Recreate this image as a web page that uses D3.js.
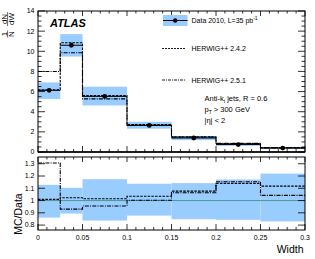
<!DOCTYPE html>
<meta charset="utf-8">
<style>
body { margin: 0; background: #fff; }
svg { font-family: "Liberation Sans", Arial, sans-serif; }
.frame { fill: none; stroke: #000; stroke-width: 1; }
</style>
<svg width="315" height="259"></svg>
<script src="https://d3js.org/d3.v7.min.js"></script>
<script>

// bin edges of the jet width
var edges = [0, 0.025, 0.05, 0.1, 0.15, 0.2, 0.25, 0.3];
// data 2010, 1/N dN/dW
var dataVals = [6.12, 10.6, 5.52, 2.64, 1.39, 0.74, 0.39];
// total uncertainty band, relative to data
var bandLo = [0.861, 0.894, 0.837, 0.877, 0.848, 0.843, 0.83];
var bandHi = [1.128, 1.104, 1.174, 1.137, 1.142, 1.172, 1.22];
// MC / Data
var ratio242 = [1.01, 1.023, 1.015, 1.035, 1.077, 1.14, 1.118];
var ratio251 = [1.306, 0.93, 0.956, 1.002, 1.064, 1.153, 1.042];

var xTicks = [0, 0.05, 0.1, 0.15, 0.2, 0.25, 0.3];
var yTicks = [0, 2, 4, 6, 8, 10, 12, 14];
var rTicks = [0.8, 0.9, 1, 1.1, 1.2, 1.3];

var svg = d3.select("svg"),
    left = 38, right = 305;

var x = d3.scaleLinear().domain([0, 0.3]).range([left, right]);
var y = d3.scaleLinear().domain([0, 14]).range([152, 11]);
var r = d3.scaleLinear().domain([0.76, 1.355]).range([230, 157]);

var bins = dataVals.map(function(d, i) {
  return {x0: edges[i], x1: edges[i + 1], v: d, lo: bandLo[i], hi: bandHi[i],
          r242: ratio242[i], r251: ratio251[i]};
});

var band = "#99ccff";

function step(yScale, f) {
  var pts = [];
  bins.forEach(function(b) {
    pts.push([x(b.x0), yScale(f(b))]);
    pts.push([x(b.x1), yScale(f(b))]);
  });
  return d3.line()(pts);
}

// ---------- top panel ----------
var topG = svg.append("g");

topG.selectAll(".band").data(bins).enter().append("rect")
    .attr("x", function(d) { return x(d.x0); })
    .attr("width", function(d) { return x(d.x1) - x(d.x0); })
    .attr("y", function(d) { return y(d.v * d.hi); })
    .attr("height", function(d) { return y(d.v * d.lo) - y(d.v * d.hi); })
    .attr("fill", band);

topG.append("path").attr("d", step(y, function(b) { return b.v * b.r242; }))
    .attr("fill", "none").attr("stroke", "#000").attr("stroke-width", 1.1)
    .attr("stroke-dasharray", "2.5,1.2");
topG.append("path").attr("d", step(y, function(b) { return b.v * b.r251; }))
    .attr("fill", "none").attr("stroke", "#000").attr("stroke-width", 1.1)
    .attr("stroke-dasharray", "4,1.2,1,1.2");

topG.selectAll(".xerr").data(bins).enter().append("line")
    .attr("x1", function(d) { return x(d.x0); })
    .attr("x2", function(d) { return x(d.x1); })
    .attr("y1", function(d) { return y(d.v); })
    .attr("y2", function(d) { return y(d.v); })
    .attr("stroke", "#000").attr("stroke-width", 1);
topG.selectAll(".pt").data(bins).enter().append("circle")
    .attr("cx", function(d) { return x((d.x0 + d.x1) / 2); })
    .attr("cy", function(d) { return y(d.v); })
    .attr("r", 2.4).attr("fill", "#000");

// axes, ROOT style ticks inside
function yAxis(g, scale, ticks, minor, side) {
  var dir = side === "left" ? 1 : -1, x0 = side === "left" ? left : right;
  var a = g.append("g");
  scale.ticks(40).filter(function(t) { return Math.abs(t / minor - Math.round(t / minor)) < 1e-6; })
    .forEach(function(t) {
      var major = ticks.some(function(m) { return Math.abs(m - t) < 1e-6; });
      a.append("line").attr("x1", x0).attr("x2", x0 + dir * (major ? 7 : 3.5))
        .attr("y1", scale(t)).attr("y2", scale(t)).attr("stroke", "#000").attr("stroke-width", 0.8);
    });
}
function xAxis(g, yPos, dir, majorLen) {
  var a = g.append("g");
  d3.range(0, 31).forEach(function(i) {
    var t = i / 100, major = i % 5 === 0;
    a.append("line").attr("x1", x(t)).attr("x2", x(t))
      .attr("y1", yPos).attr("y2", yPos + dir * (major ? majorLen : majorLen / 2))
      .attr("stroke", "#000").attr("stroke-width", 0.8);
  });
}

topG.append("rect").attr("class", "frame")
    .attr("x", left).attr("y", y(14)).attr("width", right - left).attr("height", y(0) - y(14));
yAxis(topG, y, yTicks, 0.5, "left");
yAxis(topG, y, yTicks, 0.5, "right");
xAxis(topG, y(14), 1, 5);
xAxis(topG, y(0), -1, 6);
topG.append("line").attr("x1", left).attr("x2", right).attr("y1", y(0)).attr("y2", y(0))
    .attr("stroke", "#000").attr("stroke-width", 1.5);

topG.selectAll(".ylab").data(yTicks).enter().append("text")
    .attr("x", 34.5).attr("y", function(d) { return y(d) + 2.4; })
    .attr("text-anchor", "end").attr("font-size", 7).text(function(d) { return d; });

// y title 1/N dN/dW
var yt = svg.append("g").attr("transform", "translate(7.6,0) rotate(-90)")
    .attr("font-size", 8);
yt.append("text").attr("x", -34).attr("y", -1).attr("text-anchor", "middle").text("1");
yt.append("text").attr("x", -34).attr("y", 6.6).attr("text-anchor", "middle").text("N");
yt.append("line").attr("x1", -37.5).attr("x2", -30.5).attr("y1", 0).attr("y2", 0).attr("stroke", "#000").attr("stroke-width", 0.6);
yt.append("text").attr("x", -19).attr("y", -1).attr("text-anchor", "middle").text("dN");
yt.append("text").attr("x", -19).attr("y", 6.6).attr("text-anchor", "middle").text("dW");
yt.append("line").attr("x1", -26).attr("x2", -12).attr("y1", 0).attr("y2", 0).attr("stroke", "#000").attr("stroke-width", 0.6);

svg.append("text").attr("x", 50).attr("y", 27).attr("font-size", 11)
    .attr("font-weight", "bold").attr("font-style", "italic").text("ATLAS");

// legend
var lg = svg.append("g").attr("font-size", 7);
lg.append("rect").attr("x", 163).attr("y", 15).attr("width", 24.5).attr("height", 11).attr("fill", band);
lg.append("line").attr("x1", 163).attr("x2", 187.5).attr("y1", 20.5).attr("y2", 20.5).attr("stroke", "#000");
lg.append("circle").attr("cx", 175.2).attr("cy", 20.5).attr("r", 2.2).attr("fill", "#000");
var t1 = lg.append("text").attr("x", 191.5).attr("y", 23);
t1.append("tspan").text("Data 2010, L=35 pb");
t1.append("tspan").attr("dy", -3).attr("font-size", 5).text("-1");
lg.append("line").attr("x1", 162).attr("x2", 186).attr("y1", 48.5).attr("y2", 48.5)
    .attr("stroke", "#000").attr("stroke-width", 0.9).attr("stroke-dasharray", "2,1");
lg.append("text").attr("x", 191.5).attr("y", 51).text("HERWIG++ 2.4.2");
lg.append("line").attr("x1", 162).attr("x2", 186).attr("y1", 80).attr("y2", 80)
    .attr("stroke", "#000").attr("stroke-width", 0.9).attr("stroke-dasharray", "3,1,1,1");
lg.append("text").attr("x", 191.5).attr("y", 82.5).text("HERWIG++ 2.5.1");

var an = svg.append("g").attr("font-size", 7.5);
var a1 = an.append("text").attr("x", 204.5).attr("y", 100.5);
a1.append("tspan").text("Anti-k");
a1.append("tspan").attr("dy", 2).attr("font-size", 5).text("t");
a1.append("tspan").attr("dy", -2).text(" jets, R = 0.6");
var a2 = an.append("text").attr("x", 204.5).attr("y", 111.5);
a2.append("tspan").text("p");
a2.append("tspan").attr("dy", 2).attr("font-size", 5).text("T");
a2.append("tspan").attr("dy", -2).text(" > 300 GeV");
an.append("text").attr("x", 204.5).attr("y", 122.5).text("|\u03b7| < 2");

// ---------- ratio panel ----------
var bot = svg.append("g");
bot.selectAll(".rband").data(bins).enter().append("rect")
    .attr("x", function(d) { return x(d.x0); })
    .attr("width", function(d) { return x(d.x1) - x(d.x0); })
    .attr("y", function(d) { return r(d.hi); })
    .attr("height", function(d) { return r(d.lo) - r(d.hi); })
    .attr("fill", band);
bot.append("line").attr("x1", left).attr("x2", right).attr("y1", r(1)).attr("y2", r(1))
    .attr("stroke", "#4a9a96").attr("stroke-width", 1);
bot.append("path").attr("d", step(r, function(b) { return b.r242; }))
    .attr("fill", "none").attr("stroke", "#000").attr("stroke-width", 1.1)
    .attr("stroke-dasharray", "2.5,1.2");
bot.append("path").attr("d", step(r, function(b) { return b.r251; }))
    .attr("fill", "none").attr("stroke", "#000").attr("stroke-width", 1.1)
    .attr("stroke-dasharray", "4,1.2,1,1.2");

bot.append("rect").attr("class", "frame")
    .attr("x", left).attr("y", r(1.355)).attr("width", right - left).attr("height", r(0.76) - r(1.355));
yAxis(bot, r, rTicks, 0.05, "left");
yAxis(bot, r, rTicks, 0.05, "right");
xAxis(bot, r(1.355), 1, 5);
xAxis(bot, r(0.76), -1, 6);

bot.selectAll(".rlab").data(rTicks).enter().append("text")
    .attr("x", 34.5).attr("y", function(d) { return r(d) + 2.4; })
    .attr("text-anchor", "end").attr("font-size", 7).text(function(d) { return d; });
bot.selectAll(".xlab").data(xTicks).enter().append("text")
    .attr("x", function(d) { return x(d); }).attr("y", 239.5)
    .attr("text-anchor", "middle").attr("font-size", 7).text(function(d) { return d; });

svg.append("text").attr("x", 303.5).attr("y", 253).attr("text-anchor", "end")
    .attr("font-size", 10.5).text("Width");
svg.append("text").attr("transform", "translate(22,214) rotate(-90)")
    .attr("text-anchor", "middle").attr("font-size", 10.5).text("MC/Data");

</script>
